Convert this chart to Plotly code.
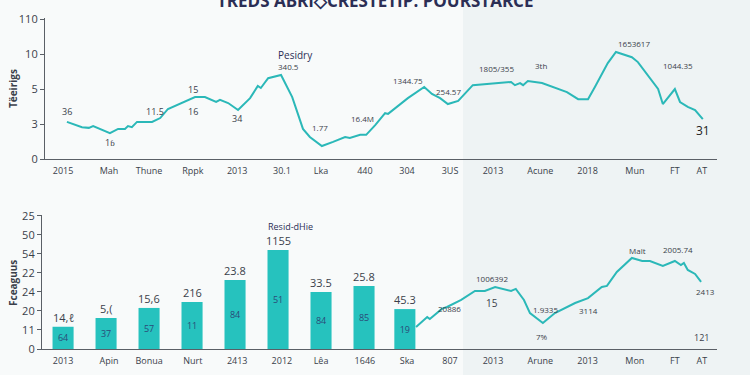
import plotly.graph_objects as go

W, H = 750, 375

# ---------- data ----------
tick_pos = [0, 1.07, 2, 3.02, 4.05, 5.09, 6.0, 7.02, 8, 9, 10, 11.1, 12.2, 13.3, 14.23, 14.86]
top_xlabels = ["2015", "Mah", "Thune", "Rppk", "2013", "30.1", "Lka", "440", "304", "3US",
               "2013", "Acune", "2018", "Mun", "FT", "AT"]
bot_xlabels = ["2013", "Apin", "Bonua", "Nurt", "2413", "2012", "Lêa", "1646", "Ska", "807",
               "2013", "Arune", "2013", "Mon", "FT", "AT"]
top_yticks = ["0", "3", "5", "10", "110"]
bot_yticks = ["0", "11", "20", "24", "22", "54", "50", "25"]

top_x = [0.09, 0.44, 0.60, 0.70, 1.09, 1.28, 1.44, 1.51, 1.60, 1.72, 2.07, 2.26, 2.44, 2.77,
         3.07, 3.30, 3.56, 3.65, 3.84, 4.07, 4.35, 4.53, 4.60, 4.77, 5.07, 5.33, 5.58, 5.74,
         6.02, 6.28, 6.56, 6.67, 6.91, 7.05, 7.26, 7.49, 7.56, 8.02, 8.40, 8.58, 8.77, 8.95,
         9.19, 9.53, 9.88, 10.21, 10.42, 10.51, 10.63, 10.70, 10.81, 11.14, 11.44, 11.72,
         11.98, 12.21, 12.37, 12.67, 12.86, 13.23, 13.37, 13.84, 13.95, 14.23, 14.35, 14.53,
         14.70, 14.88]
top_y = [1.06, 0.91, 0.89, 0.94, 0.74, 0.86, 0.86, 0.94, 0.91, 1.06, 1.06, 1.17, 1.43, 1.60,
         1.77, 1.77, 1.63, 1.69, 1.60, 1.40, 1.74, 2.09, 2.03, 2.31, 2.40, 1.77, 0.86, 0.63,
         0.37, 0.49, 0.63, 0.60, 0.69, 0.69, 0.97, 1.31, 1.29, 1.74, 2.06, 1.86, 1.74, 1.57,
         1.66, 2.11, 2.14, 2.17, 2.20, 2.11, 2.17, 2.11, 2.23, 2.17, 2.03, 1.91,
         1.71, 1.71, 2.06, 2.74, 3.06, 2.91, 2.77, 2.00, 1.57, 2.00, 1.63, 1.49,
         1.40, 1.14]

bar_x = [0, 1, 2, 3, 4, 5, 6, 7, 7.95]
bar_y = [1.17, 1.63, 2.16, 2.47, 3.63, 5.21, 3.0, 3.32, 2.1]
bar_top_text = ["14,ℓ", "5,(", "15,6", "216", "23.8", "1155", "33.5", "25.8", "45.3"]
bar_in_text = ["64", "37", "57", "11", "84", "51", "84", "85", "19"]

bot_x = [8.21, 8.47, 8.53, 8.81, 8.93, 9.26, 9.58, 9.81, 10.05, 10.42, 10.53, 10.72, 10.86,
         11.16, 11.44, 11.91, 12.21, 12.53, 12.65, 12.88, 13.23, 13.47, 13.65, 13.95, 14.23,
         14.37, 14.44, 14.53, 14.70, 14.84]
bot_y = [1.16, 1.68, 1.58, 2.11, 2.21, 2.58, 3.05, 3.05, 3.26, 3.05, 3.16, 2.58, 1.89,
         1.37, 1.89, 2.42, 2.68, 3.26, 3.32, 4.05, 4.79, 4.63, 4.63, 4.37, 4.63,
         4.42, 4.53, 4.16, 3.95, 3.53]

TEAL_LINE = "#2bb8b8"
TEAL_BAR = "#26c2be"
AXIS = "#5a5f66"
TXT = "#3a3f4a"

def px(x):
    return x / W

def py(y):
    return 1 - y / H

fig = go.Figure()

fig.add_trace(go.Scatter(x=top_x, y=top_y, mode="lines", xaxis="x", yaxis="y",
                         line=dict(color=TEAL_LINE, width=2), hoverinfo="skip", showlegend=False))
fig.add_trace(go.Bar(x=bar_x, y=bar_y, xaxis="x2", yaxis="y2", width=0.49,
                     marker=dict(color=TEAL_BAR, line=dict(width=0)),
                     text=bar_in_text, textposition="inside", insidetextanchor="middle",
                     textfont=dict(size=9, color="#2a4a78", family="Open Sans"),
                     hoverinfo="skip", showlegend=False))
fig.add_trace(go.Scatter(x=bot_x, y=bot_y, mode="lines", xaxis="x2", yaxis="y2",
                         line=dict(color=TEAL_LINE, width=2), hoverinfo="skip", showlegend=False))

# bar top labels
for bx, by, t in zip(bar_x, bar_y, bar_top_text):
    fig.add_annotation(x=bx, y=by, xref="x2", yref="y2", text=t, showarrow=False,
                       yanchor="bottom", yshift=0, font=dict(size=11, color=TXT, family="Open Sans"))

ax_common = dict(showgrid=False, zeroline=False, showline=True, linecolor=AXIS, linewidth=1.2,
                 ticks="outside", ticklen=3, tickcolor="rgba(0,0,0,0)", automargin=False,
                 tickfont=dict(size=9, color=TXT, family="Open Sans"))
yax_common = dict(showgrid=False, zeroline=False, showline=True, linecolor=AXIS, linewidth=1.2,
                  ticks="outside", ticklen=4, tickcolor=AXIS, automargin=False,
                  tickfont=dict(size=11, color=TXT, family="Open Sans"))

fig.update_layout(
    width=W, height=H,
    margin=dict(l=0, r=0, t=0, b=0, autoexpand=False),
    paper_bgcolor="#eef3f4",
    plot_bgcolor="rgba(0,0,0,0)",
    bargap=0.5,
    xaxis=dict(domain=[px(45), px(717)], range=[-0.42, 15.21], anchor="y",
               tickmode="array", tickvals=tick_pos, ticktext=top_xlabels, **ax_common),
    yaxis=dict(domain=[py(159), py(18)], range=[0, 4.03], anchor="x",
               tickmode="array", tickvals=[0, 1, 2, 3, 4], ticktext=top_yticks, **yax_common),
    xaxis2=dict(domain=[px(42), px(717)], range=[-0.49, 15.21], anchor="y2",
                tickmode="array", tickvals=tick_pos, ticktext=bot_xlabels, **ax_common),
    yaxis2=dict(domain=[py(349), py(215)], range=[0, 7.05], anchor="x2",
                tickmode="array", tickvals=list(range(8)), ticktext=bot_yticks, **yax_common),
)

# background split
fig.add_shape(type="rect", xref="paper", yref="paper", x0=0, x1=px(463), y0=0, y1=1,
              fillcolor="#f8fafa", line=dict(width=0), layer="below")

def ann(x, y, text, size=9, color=TXT, bold=False, **kw):
    if bold:
        text = "<b>" + text + "</b>"
    fig.add_annotation(x=px(x), y=py(y), xref="paper", yref="paper", text=text,
                       showarrow=False, xanchor="center", yanchor="middle",
                       font=dict(size=size, color=color, family="Open Sans"), **kw)

# title (cropped at top)
ann(375, 0, "TREDS ABRI◇CRESTETIP. POURSTARCE", size=17, color="#2b2e55", bold=True)

# y titles
ann(13, 89, "Tëeirigs", size=10, color=TXT, bold=True, textangle=-90)
ann(13, 283, "Fceaguus", size=10, color=TXT, bold=True, textangle=-90)

# top line labels
ann(67, 111, "36")
ann(110, 142, "1ɓ")
ann(155, 112, "11.5")
ann(193, 89, "15")
ann(193, 112, "16")
ann(237, 118, "34")
ann(295, 55, "Pesidry", size=10, color="#2b2e55")
ann(288, 67, "340.5", size=8)
ann(320, 127, "1.77", size=8)
ann(362, 118, "16.4M", size=8)
ann(408, 81, "1344.75", size=8)
ann(448, 91, "254.57", size=8)
ann(497, 69, "1805/355", size=8)
ann(541, 65, "3th", size=8)
ann(634, 44, "1653617", size=8)
ann(678, 65, "1044.35", size=8)
ann(703, 130, "31", size=12, color="#222")

# bottom labels
ann(290, 226, "Resid-dHie", size=9, color="#2b2e55")
ann(449, 308, "20886", size=8)
ann(492, 278, "1006392", size=8)
ann(492, 303, "15", size=10)
ann(545, 309, "1.9335", size=8)
ann(542, 336, "7%", size=8)
ann(588, 310, "3114", size=8)
ann(637, 250, "Malt", size=8)
ann(678, 249, "2005.74", size=8)
ann(705, 291, "2413", size=8)
ann(701, 337, "121", size=9)

fig.write_html("out.html", config={"displayModeBar": False},
               post_script="document.body.style.margin='0';document.body.style.overflow='hidden';")
